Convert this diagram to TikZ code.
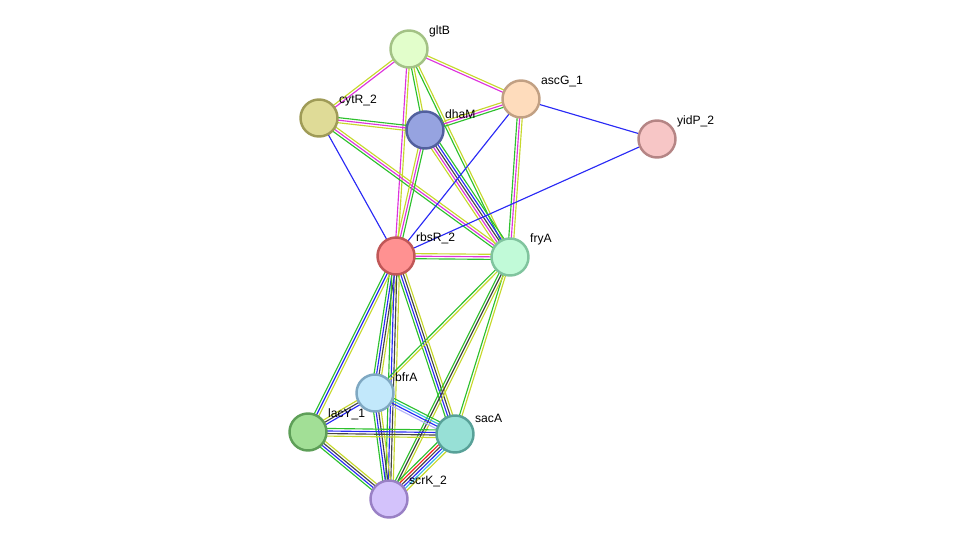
\documentclass[tikz,border=0pt]{standalone}
\usepackage{fontspec}
\setsansfont{Liberation Sans}
\usepackage{tikz}
\usetikzlibrary{calc, backgrounds}

% evidence colours
\definecolor{nb}{HTML}{2DC02D}
\definecolor{tm}{HTML}{C6D82C}
\definecolor{ex}{HTML}{DD33DD}
\definecolor{co}{HTML}{2A2AF5}
\definecolor{cx}{HTML}{454545}
\definecolor{db}{HTML}{33BBE0}
\definecolor{fu}{HTML}{F52020}
\definecolor{ho}{HTML}{B4B4F8}

% one parallel line per evidence channel
\newcommand{\link}[3]{%
  \foreach \c [count=\k] in {#3} {\xdef\nlines{\k}}%
  \foreach \c [count=\i] in {#3} {%
    \pgfmathsetmacro\off{(\i-(\nlines+1)/2)*1.45}%
    \draw[line width=0.65pt, \c] ($(#1)!\off pt!90:(#2)$) -- ($(#2)!\off pt!-90:(#1)$);
  }%
}

\begin{document}
\begin{tikzpicture}[x=0.02cm, y=-0.02cm,
    prot/.style={circle, line width=1.4pt, minimum size=0.74cm, inner sep=0pt},
    lbl/.style={font=\sffamily\fontsize{6.9}{8}\selectfont, anchor=south west, inner sep=0.6pt, xshift=0.8pt, yshift=-1.6pt},
    every label/.style={lbl}, label distance=1.6pt
]
\useasboundingbox (0,0) rectangle (975,545);

\node[prot, draw={rgb,255:red,163;green,194;blue,133}, fill={rgb,255:red,226;green,254;blue,203}, label={[lbl]45:gltB}] (gltB) at (409,49) {};
\node[prot, draw={rgb,255:red,193;green,160;blue,131}, fill={rgb,255:red,254;green,220;blue,188}, label={[lbl]45:ascG\_1}] (ascG) at (521,99) {};
\node[prot, draw={rgb,255:red,181;green,133;blue,133}, fill={rgb,255:red,247;green,198;blue,198}, label={[lbl]45:yidP\_2}] (yidP) at (657,139) {};
\node[prot, draw={rgb,255:red,159;green,155;blue,87}, fill={rgb,255:red,223;green,219;blue,151}, label={[lbl]45:cytR\_2}] (cytR) at (319,118) {};
\node[prot, draw={rgb,255:red,82;green,96;blue,158}, fill={rgb,255:red,150;green,163;blue,224}, label={[lbl]45:dhaM}] (dhaM) at (425,130) {};
\node[prot, draw={rgb,255:red,192;green,87;blue,87}, fill={rgb,255:red,255;green,145;blue,145}, label={[lbl]45:rbsR\_2}] (rbsR) at (396,256) {};
\node[prot, draw={rgb,255:red,128;green,196;blue,158}, fill={rgb,255:red,193;green,250;blue,216}, label={[lbl]45:fryA}] (fryA) at (510,257) {};
\node[prot, draw={rgb,255:red,127;green,168;blue,194}, fill={rgb,255:red,194;green,232;blue,251}, label={[lbl]45:bfrA}] (bfrA) at (375,393) {};
\node[prot, draw={rgb,255:red,94;green,159;blue,88}, fill={rgb,255:red,162;green,223;blue,150}, label={[lbl]45:lacY\_1}] (lacY) at (308,432) {};
\node[prot, draw={rgb,255:red,88;green,161;blue,152}, fill={rgb,255:red,151;green,224;blue,214}, label={[lbl]45:sacA}] (sacA) at (455,434) {};
\node[prot, draw={rgb,255:red,153;green,128;blue,197}, fill={rgb,255:red,211;green,194;blue,251}, label={[lbl]45:scrK\_2}] (scrK) at (389,499) {};

\begin{scope}[on background layer]
\link{gltB}{cytR}{tm,ex}
\link{gltB}{ascG}{ex,tm}
\link{gltB}{dhaM}{nb,tm}
\link{gltB}{rbsR}{ex,tm}
\link{gltB}{fryA}{nb,tm}
\link{cytR}{dhaM}{tm,ex,nb}
\link{cytR}{rbsR}{co}
\link{cytR}{fryA}{nb,ex,tm}
\link{dhaM}{ascG}{nb,ex,tm}
\link{dhaM}{rbsR}{tm,ex,nb}
\link{dhaM}{fryA}{tm,ex,cx,co,nb}
\link{ascG}{rbsR}{co}
\link{ascG}{fryA}{nb,ex,tm}
\link{ascG}{yidP}{co}
\link{yidP}{rbsR}{co}
\link{rbsR}{fryA}{nb,ex,tm}
\link{rbsR}{bfrA}{nb,co,cx,tm}
\link{rbsR}{lacY}{nb,co,tm}
\link{rbsR}{sacA}{nb,co,cx,tm}
\link{rbsR}{scrK}{nb,co,cx,tm}
\link{fryA}{bfrA}{nb,tm}
\link{fryA}{sacA}{nb,tm}
\link{fryA}{scrK}{nb,cx,tm}
\link{bfrA}{lacY}{tm,cx,co}
\link{bfrA}{sacA}{ho,co,db,nb}
\link{bfrA}{scrK}{nb,co,cx,tm}
\link{lacY}{sacA}{tm,cx,co,nb}
\link{lacY}{scrK}{nb,co,cx,tm}
\link{sacA}{scrK}{nb,fu,cx,co,db,tm}
\end{scope}
\end{tikzpicture}
\end{document}
